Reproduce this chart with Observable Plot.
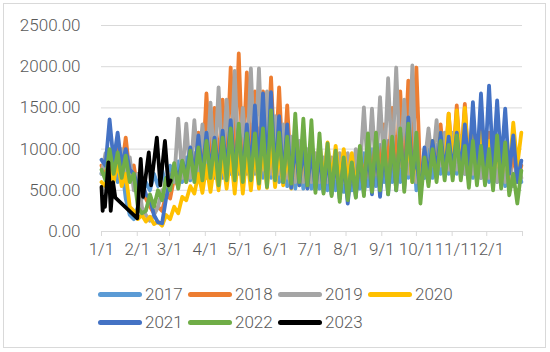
<!DOCTYPE html>
<html>
<head>
<meta charset="utf-8">
<script src="https://cdn.jsdelivr.net/npm/d3@7"></script>
<script src="https://cdn.jsdelivr.net/npm/@observablehq/plot@0.6"></script>
<style>
  html, body { margin: 0; padding: 0; background: #fff; }
  #wrap { position: relative; width: 550px; height: 352px; overflow: hidden; font-family: Roboto, "Noto Sans", sans-serif; font-weight: 300; color: #595959; }
  #frame { position: absolute; left: 3px; top: 3px; width: 541px; height: 343px; border: 1px solid #D9D9D9; pointer-events: none; }
  #chart { position: absolute; left: 0; top: 0; }
  #legend { position: absolute; left: 98px; top: 280px; }
  .row { display: flex; height: 28px; align-items: center; }
  .item { display: flex; align-items: center; width: 90px; }
  .sw { width: 44px; height: 5px; border-radius: 3px; margin-right: 3px; }
  .lb { font-size: 17px; line-height: 28px; }
</style>
</head>
<body>
<div id="wrap">
  <div id="chart"></div>
  <div id="legend"></div>
  <div id="frame"></div>
</div>
<script>
// Series years and colours
const years = ["2017", "2018", "2019", "2020", "2021", "2022", "2023"];
const colors = ["#5B9BD5", "#ED7D31", "#A5A5A5", "#FFC000", "#4472C4", "#70AD47", "#000000"];

// Month tick labels (day of year of each month start)
const monthLabels = ["1/1","2/1","3/1","4/1","5/1","6/1","7/1","8/1","9/1","10/1","11/1","12/1",""];
const monthStarts = [0,31,59,90,120,151,181,212,243,273,304,334,365];

// Half-week samples (every 3.5 days) for 2017–2022
const v2017 = [700,900,650,950,600,800,400,200,150,300,400,600,500,700,550,750,550,800,600,850,600,900,620,950,650,1000,650,1050,650,1100,650,1150,700,1200,700,1250,700,1300,700,1250,650,1200,650,1100,600,1000,550,950,520,900,520,850,520,850,520,850,500,850,500,850,480,850,500,900,520,950,550,1000,550,1050,600,1100,600,1150,600,1200,650,1250,500,800,650,1000,650,1050,700,1100,700,1150,700,1150,700,1100,650,1050,650,1000,600,950,600,900,550,850,550,800,600];
const v2018 = [800,650,900,700,1000,750,1140,700,800,500,600,400,300,220,300,250,450,400,650,550,800,600,1000,650,1200,700,1675,750,1500,750,1600,800,1990,800,2160,800,1930,800,1700,750,1700,800,1870,750,1750,700,1530,650,1200,600,1100,600,1000,550,900,550,900,550,900,550,850,500,900,550,950,600,1100,600,1200,650,1300,700,1500,750,1700,800,1830,800,1990,600,900,650,1100,700,1300,750,1430,800,1530,800,1550,750,1400,700,1300,700,1200,650,1100,650,1000,600,950,600,800];
const v2019 = [700,950,700,1000,750,1000,700,900,500,700,300,200,130,200,300,500,450,700,600,1370,650,1310,650,1350,700,1300,700,1565,750,1750,750,1600,800,1950,750,1500,800,1980,800,1980,750,1700,700,1400,700,1300,650,1150,600,1100,600,1000,600,950,600,900,600,900,650,950,600,950,600,1000,700,1505,700,1490,700,1630,750,1860,800,1990,800,1600,700,2015,600,700,800,1250,800,1350,800,1200,750,1200,750,1150,700,1100,700,1100,650,1000,650,1000,600,950,600,900,550,850,650];
const v2020 = [600,550,800,600,850,550,700,300,250,150,200,120,180,90,120,70,200,150,300,220,420,380,550,460,700,470,800,480,850,500,900,520,950,460,1000,460,950,500,1000,520,1050,530,1100,540,1000,560,950,520,1000,560,950,530,1000,560,1080,600,1080,600,1040,620,1000,620,950,520,900,500,900,520,950,500,1000,540,1050,560,1100,550,1150,600,1000,520,1000,600,1100,650,1200,700,1430,750,1470,780,1500,750,1300,700,1200,700,1100,650,1050,600,1000,700,1320,800,1200];
const v2021 = [870,800,1360,850,1200,800,1000,750,700,550,600,450,400,200,110,100,400,620,780,650,850,700,1020,680,1165,700,1200,720,1140,700,1225,720,1350,700,1250,680,1300,700,1530,720,1675,700,1690,650,1400,600,1300,530,1100,560,1050,520,1000,500,950,480,900,450,880,400,850,340,820,420,950,450,1000,450,1050,420,1000,450,1100,500,1200,520,1385,700,900,450,1020,650,1100,700,1200,700,1150,720,1200,700,1300,750,1570,780,1675,780,1770,800,1590,800,1490,700,1165,600,860];
const v2022 = [750,620,1000,700,960,650,920,600,700,300,220,250,450,300,500,380,650,500,830,520,860,600,980,600,1020,620,1100,650,1100,560,1140,620,1250,620,1310,600,1190,620,1190,580,1250,540,1470,620,1200,600,1150,580,1430,600,1370,560,1350,470,1190,460,1070,430,980,360,900,380,840,410,1040,430,1190,480,1200,500,1100,450,1150,500,1250,480,1310,600,1200,340,900,550,1000,600,1100,620,1050,620,1165,620,1040,530,1100,560,1040,560,1000,500,1165,520,1080,440,700,340,740];

// 2023 only covers January–February (day of year, value)
const days2023 = [0,1,2,3,6,8,10,12,31,34,36,41,43,48,51,55,58,60];
const v2023 = [540,250,420,300,840,250,600,410,160,880,420,960,560,1140,560,1100,560,620];

const halfWeek = [v2017, v2018, v2019, v2020, v2021, v2022];
const rows = [];
halfWeek.forEach((arr, k) => arr.forEach((v, i) => rows.push({year: years[k], day: i * 3.5, value: v})));
days2023.forEach((d, i) => rows.push({year: "2023", day: d, value: v2023[i]}));

const chart = Plot.plot({
  width: 550,
  height: 270,
  marginTop: 25,
  marginBottom: 39,
  marginLeft: 101,
  marginRight: 28,
  style: {fontFamily: "Roboto, 'Noto Sans', sans-serif", fontSize: "17px", fontWeight: 300, color: "#595959", background: "transparent"},
  x: {domain: [0, 365]},
  y: {domain: [0, 2500]},
  color: {domain: years, range: colors},
  marks: [
    Plot.gridY({ticks: [0, 500, 1000, 1500, 2000, 2500], stroke: "#D9D9D9", strokeOpacity: 1, strokeWidth: 1}),
    Plot.axisY({ticks: [0, 500, 1000, 1500, 2000, 2500], tickFormat: d3.format(".2f"), tickSize: 0, tickPadding: 21, label: null, fill: "#595959"}),
    Plot.axisX({ticks: monthStarts, tickFormat: (d, i) => monthLabels[i], tickSize: 5, tickPadding: 6, stroke: "#D9D9D9", strokeOpacity: 1, label: null, fill: "#595959"}),
    Plot.line(rows, {x: "day", y: "value", z: "year", stroke: "year", strokeWidth: 3.8, strokeLinejoin: "round", strokeLinecap: "round"})
  ]
});
document.getElementById("chart").appendChild(chart);

// Legend below the plot
const legend = document.getElementById("legend");
const rowsDef = [years.slice(0, 4), years.slice(4)];
rowsDef.forEach(group => {
  const r = document.createElement("div");
  r.className = "row";
  group.forEach(y => {
    const it = document.createElement("div");
    it.className = "item";
    const sw = document.createElement("span");
    sw.className = "sw";
    sw.style.background = colors[years.indexOf(y)];
    const lb = document.createElement("span");
    lb.className = "lb";
    lb.textContent = y;
    it.appendChild(sw);
    it.appendChild(lb);
    r.appendChild(it);
  });
  legend.appendChild(r);
});
</script>
</body>
</html>
